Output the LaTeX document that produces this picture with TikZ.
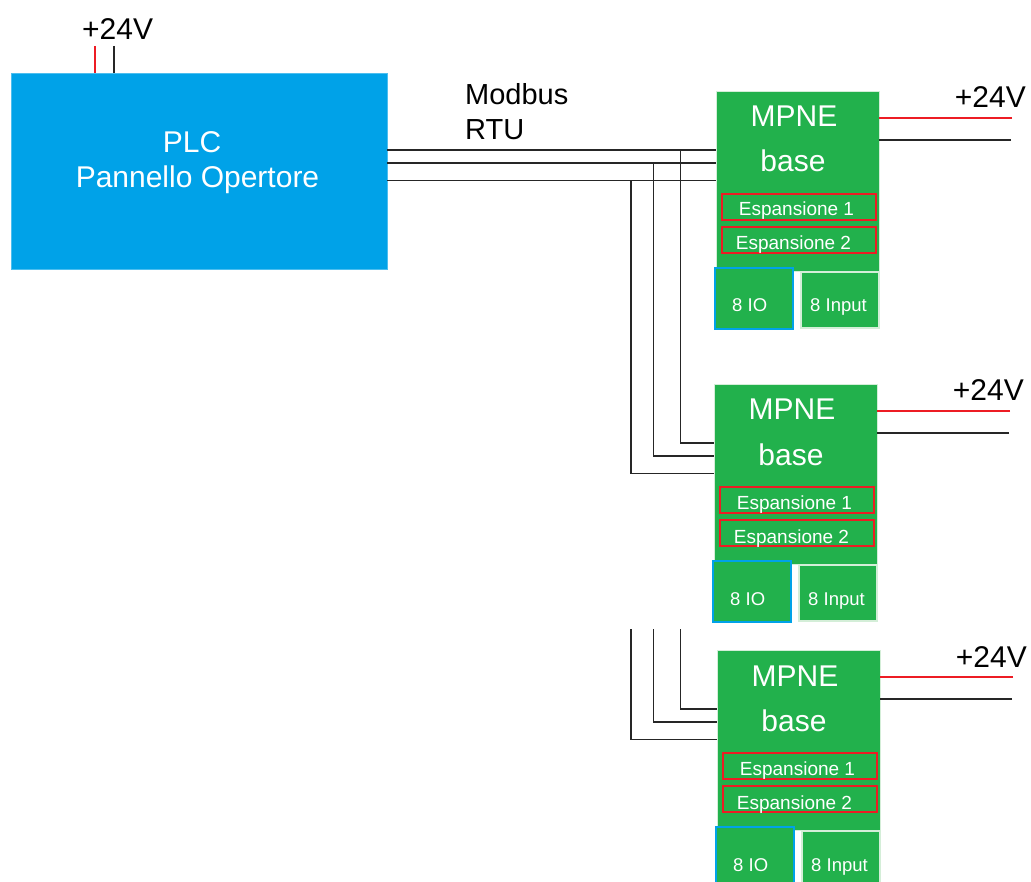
\documentclass[tikz,border=0pt]{standalone}
\usepackage{fontspec}
\setmainfont{Liberation Sans}
\usetikzlibrary{calc,positioning}

\definecolor{plcblu}{HTML}{00A2E8}
\definecolor{mpverde}{HTML}{22B14C}
\definecolor{rosso}{HTML}{ED1C24}
\definecolor{bordo}{HTML}{D4EED8}
\definecolor{filo}{HTML}{262626}

\tikzset{
  plcbox/.style={fill=plcblu, draw=plcblu!70!white, line width=0.8pt, inner sep=0pt,
    minimum width=376pt, minimum height=196pt},
  modbox/.style={fill=mpverde, draw=bordo, line width=0.8pt, inner sep=0pt,
    minimum width=163pt, minimum height=180pt},
  espbox/.style={fill=mpverde, draw=rosso, line width=1.3pt, inner sep=0pt,
    minimum width=154pt, minimum height=26pt},
  iobox/.style={fill=mpverde, draw=plcblu, line width=1.3pt, inner sep=0pt,
    minimum width=78pt, minimum height=61pt},
  inpbox/.style={fill=mpverde, draw=bordo, line width=1.3pt, inner sep=0pt,
    minimum width=78pt, minimum height=56pt},
  bigtxt/.style={text=white, inner sep=0pt, font=\fontsize{30}{36}\selectfont},
  esptxt/.style={text=white, inner sep=0pt, font=\fontsize{19}{23}\selectfont},
  smalltxt/.style={text=white, inner sep=0pt, font=\fontsize{18.5}{22}\selectfont},
  nero/.style={text=black, inner sep=0pt, font=\fontsize{30}{36}\selectfont},
  wire/.style={draw=filo, line width=1.7pt},
  wirered/.style={draw=rosso, line width=1.5pt},
}

\begin{document}
\begin{tikzpicture}[x=1pt, y=-1pt]
  \useasboundingbox (0,0) rectangle (1031,882);

  %% PLC
  \node[plcbox] (plc) at (199,171) {};
  \node[bigtxt, anchor=base] (plcA) at (192,153) {PLC};
  \node[bigtxt, anchor=base] (plcB) at (197.5,188) {Pannello Opertore};
  \node[nero, anchor=base west] (v0) at (82,40) {+24V};
  \coordinate (r0) at (95,46);
  \coordinate (k0) at (114,46);
  \draw[wirered] (r0) -- (r0 |- plc.north);
  \draw[wire] (k0) -- (k0 |- plc.north);

  \node[nero, anchor=base west, font=\fontsize{29}{35}\selectfont] (mbA) at (465,104.3) {Modbus};
  \node[nero, anchor=base west, font=\fontsize{29}{35}\selectfont] (mbB) at (465,139.3) {RTU};

  %% moduli MPNE, posizione dell'angolo in alto a sinistra
  \foreach \i/\x/\y in {1/716/91, 2/714/384, 3/717/650}{
    \begin{scope}[shift={(\x,\y)}]
      \node[modbox] (m\i) at (81.5,90) {};
      \node[bigtxt, anchor=base] (mpne\i) at (78,36) {MPNE};
      \node[bigtxt, anchor=base] (base\i) at (77,81) {base};
      \node[espbox] (esp\i a) at (83,116) {};
      \node[esptxt, anchor=base] (e\i a) at (80.5,125) {Espansione 1};
      \node[espbox] (esp\i b) at (83,149) {};
      \node[esptxt, anchor=base] (e\i b) at (77.5,159) {Espansione 2};
      \node[iobox] (io\i) at (38,207.5) {};
      \node[smalltxt, anchor=base west] (iot\i) at (16,221) {8 IO};
      \node[inpbox] (inp\i) at (124,209) {};
      \node[smalltxt, anchor=base west] (inpt\i) at (94,221) {8 Input};
      \node[nero, anchor=base east] (v\i) at (310,17) {+24V};
      \coordinate (pr\i) at (296,27);
      \coordinate (pk\i) at (295,49);
      \draw[wirered] (pr\i) -- (pr\i -| m\i.east);
      \draw[wire] (pk\i) -- (pk\i -| m\i.east);
      %% ingressi del bus
      \coordinate (in\i a) at (0,59);
      \coordinate (in\i b) at (0,72);
      \coordinate (in\i c) at (0,89.5);
    \end{scope}
  }

  %% bus Modbus
  \coordinate (busa) at (680.5,0);
  \coordinate (busb) at (653.5,0);
  \coordinate (busc) at (631,0);
  \coordinate (top3) at (0,629);
  \foreach \k in {a,b,c}{
    \draw[wire] (plc.east |- in1\k) -- (in1\k);
    \draw[wire] (bus\k |- in1\k) -- (bus\k |- in2\k) -- (in2\k);
    \draw[wire] (bus\k |- top3) -- (bus\k |- in3\k) -- (in3\k);
  }
\end{tikzpicture}
\end{document}
